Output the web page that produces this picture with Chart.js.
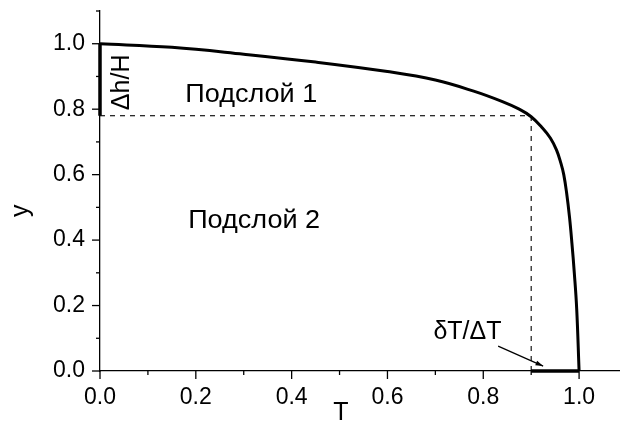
<!DOCTYPE html>
<html>
<head>
<meta charset="utf-8">
<script src="https://cdn.jsdelivr.net/npm/chart.js@4/dist/chart.umd.min.js"></script>
<style>
  html,body{margin:0;padding:0;background:#fff;overflow:hidden;}
  #wrap{width:640px;height:423px;position:relative;}
</style>
</head>
<body>
<div id="wrap"><canvas id="c"></canvas></div>
<script>
// profile y(T)
const curveT = [0, 0.15, 0.3, 0.45, 0.6, 0.7, 0.78, 0.84, 0.875, 0.9, 0.922, 0.94, 0.953, 0.962, 0.968, 0.974, 0.98, 0.985, 0.99, 0.995, 1.0];
const curveY = [1.0, 0.989, 0.968, 0.944, 0.915, 0.889, 0.855, 0.823, 0.8, 0.777, 0.745, 0.712, 0.675, 0.635, 0.6, 0.544, 0.47, 0.391, 0.3, 0.19, 0.0];
// sublayer boundary
const boundT = 0.9;
const boundY = 0.78;
// thick marks: dh/H on y axis, dT/DT on T axis
const dhT = [0, 0];
const dhY = [1.0, 0.78];
const dTT = [0.9, 1.0];
const dTY = [0, 0];
// axis
const xTicks = [0, 0.2, 0.4, 0.6, 0.8, 1.0];
const yTicks = [0, 0.2, 0.4, 0.6, 0.8, 1.0];
const labels = [
  {text:'Подслой 1', T:0.178, y:0.845, align:'left', size:26, sx:1.04},
  {text:'Подслой 2', T:0.184, y:0.46, align:'left', size:26, sx:1.04},
  {text:'δT/ΔT', T:0.767, y:0.12, align:'center', size:25, sx:1},
  {text:'Δh/H', T:0.046, y:0.882, align:'center', size:25, sx:1, rot:true}
];
const arrowFrom = [0.831, 0.076];
const arrowTo = [0.925, 0.015];

const FONT = '"Liberation Sans", Arial, sans-serif';
const pts = (xs, ys) => xs.map((x,i)=>({x, y:ys[i]}));
const isMajor = (v, list) => list.some(t => Math.abs(t - v) < 1e-6);

const drawExtras = {
  id:'extras',
  afterDraw(chart){
    const c = chart.ctx, xs = chart.scales.x, ys = chart.scales.y;
    c.save();
    c.strokeStyle = '#000'; c.lineWidth = 1.3;
    // tick marks, major long, minor short
    xs.ticks.forEach(t=>{
      const px = xs.getPixelForValue(t.value), len = isMajor(t.value, xTicks) ? 8 : 4;
      c.beginPath(); c.moveTo(px, xs.top); c.lineTo(px, xs.top + len); c.stroke();
    });
    ys.ticks.forEach(t=>{
      const py = ys.getPixelForValue(t.value), len = isMajor(t.value, yTicks) ? 8 : 4;
      c.beginPath(); c.moveTo(ys.right, py); c.lineTo(ys.right - len, py); c.stroke();
    });
    // texts
    c.fillStyle = '#000';
    c.textBaseline = 'middle';
    labels.forEach(l=>{
      const px = xs.getPixelForValue(l.T), py = ys.getPixelForValue(l.y);
      c.save();
      c.font = l.size + 'px ' + FONT;
      c.translate(px, py);
      if(l.rot) c.rotate(-Math.PI/2);
      c.scale(l.sx, 1);
      c.textAlign = l.rot ? 'center' : l.align;
      c.fillText(l.text, 0, 0);
      c.restore();
    });
    // arrow
    const ax = xs.getPixelForValue(arrowFrom[0]), ay = ys.getPixelForValue(arrowFrom[1]);
    const bx = xs.getPixelForValue(arrowTo[0]), by = ys.getPixelForValue(arrowTo[1]);
    c.lineWidth = 1.2;
    c.beginPath(); c.moveTo(ax, ay); c.lineTo(bx, by); c.stroke();
    const ang = Math.atan2(by-ay, bx-ax);
    c.beginPath();
    c.moveTo(bx, by);
    c.lineTo(bx - 8*Math.cos(ang-0.3), by - 8*Math.sin(ang-0.3));
    c.lineTo(bx - 8*Math.cos(ang+0.3), by - 8*Math.sin(ang+0.3));
    c.closePath(); c.fill();
    // axis titles
    c.font = '25px ' + FONT;
    c.textAlign = 'center';
    c.fillText('T', xs.getPixelForValue(0.503), 413);
    c.save();
    c.translate(21, ys.getPixelForValue(0.49));
    c.rotate(-Math.PI/2);
    c.fillText('y', 0, 0);
    c.restore();
    c.restore();
  }
};

new Chart(document.getElementById('c'), {
  type:'scatter',
  data:{ datasets:[
    { data:pts(curveT, curveY), showLine:true, borderColor:'#000', borderWidth:3, pointRadius:0, tension:0.4, clip:false },
    { data:pts([0, boundT], [boundY, boundY]), showLine:true, borderColor:'#000', borderWidth:1.1, borderDash:[5,5], pointRadius:0 },
    { data:pts([boundT, boundT], [0, boundY]), showLine:true, borderColor:'#000', borderWidth:1.1, borderDash:[5,5], pointRadius:0 },
    { data:pts(dhT, dhY), showLine:true, borderColor:'#000', borderWidth:3.5, pointRadius:0, clip:false },
    { data:pts(dTT, dTY), showLine:true, borderColor:'#000', borderWidth:3.5, pointRadius:0, clip:false }
  ]},
  plugins:[drawExtras],
  options:{
    responsive:true, maintainAspectRatio:false, animation:false,
    layout:{ padding:{ left:0, top:11, right:13, bottom:0 } },
    plugins:{ legend:{display:false}, tooltip:{enabled:false} },
    scales:{
      x:{ type:'linear', min:0, max:1.1,
        afterFit(s){ s.height = 52; s.paddingLeft = 0; s.paddingRight = 0; },
        border:{ color:'#000', width:1.3 },
        grid:{ drawOnChartArea:false, drawTicks:true, tickLength:8, color:'rgba(0,0,0,0)' },
        ticks:{ stepSize:0.1, autoSkip:false, maxRotation:0, padding:5, color:'#000', font:{ family:FONT, size:23 },
          callback:v => isMajor(v, xTicks) ? v.toFixed(1) : '' } },
      y:{ type:'linear', min:0, max:1.1,
        afterFit(s){ s.width = 100; s.paddingTop = 0; s.paddingBottom = 0; },
        border:{ color:'#000', width:1.3 },
        grid:{ drawOnChartArea:false, drawTicks:true, tickLength:8, color:'rgba(0,0,0,0)' },
        ticks:{ stepSize:0.1, autoSkip:false, padding:7, color:'#000', font:{ family:FONT, size:23 },
          callback:v => isMajor(v, yTicks) ? v.toFixed(1) : '' } }
    }
  }
});
</script>
</body>
</html>
